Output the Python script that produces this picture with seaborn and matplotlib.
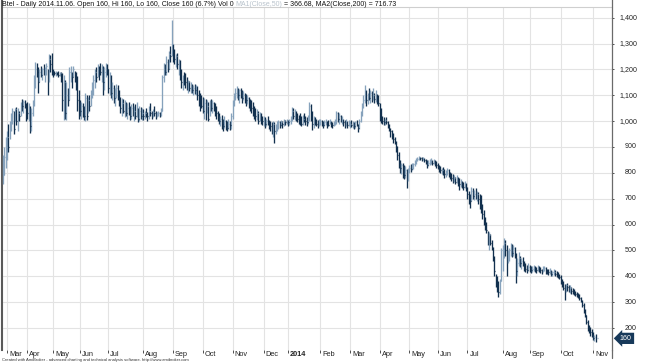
import numpy as np
import matplotlib
matplotlib.use('Agg')
import matplotlib.pyplot as plt
from matplotlib.lines import Line2D
import seaborn as sns

# month labels (first entry = the few bars of late Feb 2013, no label)
month_labels = ['', 'Mar', 'Apr', 'May', 'Jun', 'Jul', 'Aug', 'Sep', 'Oct', 'Nov', 'Dec',
                '2014', 'Feb', 'Mar', 'Apr', 'May', 'Jun', 'Jul', 'Aug', 'Sep', 'Oct', 'Nov']
bars_per_month = [3, 15, 19, 20, 21, 26, 22, 22, 22, 23, 18,
                  24, 22, 22, 22, 21, 22, 26, 20, 23, 24, 4]

high = [
    870, 900, 940,
    960, 990, 1000, 1030, 1050, 1040, 1050, 1055, 1050, 1040, 1075, 1085, 1080, 1080, 1070,
    1075, 1070, 1060, 1050, 1080, 1180, 1230, 1225, 1210, 1200, 1215, 1205, 1220, 1210, 1225, 1200, 1260, 1255, 1265,
    1200, 1195, 1195, 1190, 1195, 1190, 1190, 1185, 1180, 1160, 1150, 1130, 1210, 1215, 1190, 1215, 1195, 1190, 1175, 1120,
    1080, 1075, 1070, 1060, 1110, 1100, 1095, 1100, 1120, 1150, 1180, 1200, 1210, 1220, 1215, 1225, 1220, 1215, 1210, 1225, 1220,
    1200, 1190, 1180, 1150, 1140, 1130, 1145, 1140, 1120, 1095, 1090, 1085, 1080, 1075, 1070, 1075, 1060, 1065, 1070, 1060, 1065, 1075, 1050, 1060, 1055, 1050,
    1045, 1040, 1050, 1035, 1060, 1070, 1040, 1045, 1060, 1040, 1035, 1040, 1035, 1050, 1180, 1225, 1220, 1250, 1240, 1270, 1290, 1390,
    1300, 1280, 1260, 1265, 1240, 1235, 1200, 1180, 1190, 1185, 1170, 1160, 1155, 1150, 1145, 1140, 1145, 1140, 1135, 1120, 1110, 1100,
    1095, 1090, 1085, 1080, 1075, 1080, 1085, 1080, 1075, 1070, 1060, 1040, 1030, 1020, 1025, 1010, 1020, 1005, 1000, 1010, 1000, 1030,
    1080, 1110, 1130, 1135, 1130, 1125, 1130, 1120, 1115, 1110, 1105, 1100, 1095, 1085, 1080, 1075, 1060, 1050, 1045, 1040, 1035, 1030, 1020,
    1020, 1015, 1010, 1020, 1005, 1000, 995, 1000, 995, 990, 1000, 1005, 1000, 1005, 1000, 1010, 1005, 1010,
    1005, 1010, 1020, 1055, 1050, 1045, 1040, 1030, 1025, 1030, 1020, 1025, 1030, 1020, 1015, 1025, 1075, 1065, 1040, 1020, 1015, 1010, 1005, 1010,
    1010, 1005, 1000, 1005, 1010, 1000, 1005, 1010, 1000, 995, 1000, 1010, 1040, 1035, 1030, 1025, 1020, 1010, 1005, 1010, 1000, 1005,
    1000, 1005, 1000, 995, 1000, 1005, 990, 1010, 1040, 1070, 1100, 1140, 1120, 1110, 1130, 1120, 1115, 1130, 1110, 1120, 1105, 1100,
    1070, 1050, 1020, 1015, 1010, 1015, 1000, 990, 975, 965, 955, 940, 925, 905, 880, 850, 840, 838, 830, 825, 815, 820,
    830, 835, 838, 840, 850, 858, 862, 865, 862, 860, 862, 858, 855, 850, 848, 852, 856, 850, 855, 850, 845,
    840, 830, 825, 820, 822, 815, 810, 818, 815, 805, 800, 795, 790, 785, 790, 785, 780, 775, 770, 765, 770, 760,
    745, 730, 720, 745, 740, 735, 740, 730, 725, 720, 715, 680, 656, 630, 610, 575, 570, 565, 540, 514, 480, 410, 400, 380, 390, 510,
    520, 547, 540, 520, 500, 510, 528, 525, 520, 515, 490, 470, 494, 480, 470, 475, 460, 450, 445, 450,
    445, 440, 438, 442, 440, 435, 443, 440, 436, 430, 438, 440, 435, 430, 428, 432, 425, 420, 428, 425, 420, 415, 410,
    404, 390, 380, 370, 372, 373, 368, 365, 360, 355, 350, 345, 340, 335, 330, 320, 308, 295, 275, 250, 230, 210, 204, 195,
    185, 172, 175, 160,
]

low = [
    755, 790, 820,
    850, 880, 930, 960, 990, 950, 1000, 985, 960, 1000, 1020, 1040, 1030, 1050, 1000,
    1010, 1000, 955, 960, 1020, 1060, 1130, 1170, 1110, 1150, 1170, 1160, 1180, 1150, 1180, 1100, 1150, 1190, 1180,
    1170, 1180, 1175, 1180, 1170, 1175, 1150, 1040, 1003, 1010, 1005, 1060, 1080, 1150, 1130, 1170, 1150, 1120, 1040, 1010,
    1020, 1010, 1015, 1005, 1000, 1005, 1030, 1040, 1060, 1090, 1100, 1130, 1150, 1170, 1160, 1180, 1150, 1100, 1120, 1170, 1180,
    1110, 1100, 1090, 1080, 1070, 1060, 1090, 1080, 1060, 1030, 1020, 1030, 1015, 1020, 1010, 1025, 1005, 1010, 1020, 1000, 1010, 1015, 995, 1000, 1010, 1005,
    1005, 1010, 1015, 1000, 1010, 1020, 1010, 1015, 1020, 1010, 1015, 1020, 1015, 1020, 1040, 1150, 1180, 1180, 1190, 1200, 1230, 1250,
    1230, 1220, 1210, 1200, 1180, 1160, 1130, 1120, 1140, 1130, 1120, 1110, 1115, 1110, 1110, 1100, 1105, 1100, 1080, 1060, 1040, 1050,
    1030, 1010, 1005, 1030, 1000, 1020, 1040, 1030, 1040, 1020, 1010, 1000, 990, 980, 970, 960, 975, 965, 960, 970, 965, 970,
    1010, 1060, 1080, 1090, 1080, 1070, 1090, 1070, 1080, 1070, 1060, 1065, 1050, 1040, 1030, 1020, 1010, 1000, 1005, 990, 1000, 990, 985,
    980, 975, 980, 985, 970, 960, 950, 940, 915, 950, 960, 970, 975, 980, 975, 980, 985, 990,
    980, 985, 990, 1000, 1010, 1005, 1000, 995, 990, 985, 980, 985, 995, 985, 980, 990, 1000, 1000, 966, 975, 985, 980, 975, 980,
    985, 980, 975, 980, 985, 975, 980, 990, 978, 975, 980, 985, 990, 995, 990, 995, 990, 980, 975, 980, 975, 980,
    975, 978, 972, 970, 975, 980, 958, 970, 995, 1020, 1050, 1070, 1060, 1065, 1080, 1070, 1075, 1080, 1070, 1075, 1065, 1060,
    1000, 993, 990, 985, 985, 990, 975, 960, 940, 930, 915, 910, 880, 850, 820, 800, 795, 780, 775, 780, 741, 770,
    800, 805, 810, 815, 825, 835, 845, 848, 850, 845, 848, 842, 835, 820, 825, 830, 835, 830, 835, 825, 820,
    815, 805, 800, 795, 790, 780, 785, 790, 785, 775, 770, 760, 765, 755, 760, 750, 734, 745, 740, 735, 740, 730,
    700, 680, 664, 690, 700, 695, 700, 690, 680, 660, 643, 620, 600, 580, 568, 520, 500, 520, 500, 460, 400, 360, 340, 320, 330, 380,
    420, 470, 480, 400, 450, 460, 480, 475, 480, 470, 375, 400, 440, 437, 430, 440, 420, 415, 412, 420,
    415, 412, 418, 420, 415, 412, 420, 418, 414, 410, 415, 420, 410, 408, 405, 410, 400, 402, 405, 400, 398, 395, 390,
    370, 360, 346, 308, 340, 345, 340, 335, 330, 332, 327, 325, 320, 315, 308, 300, 280, 260, 242, 215, 190, 180, 170, 165,
    153, 150, 146, 160,
]

close = [
    790, 860, 900,
    940, 900, 990, 1000, 1040, 970, 1045, 1000, 1030, 1020, 1070, 1060, 1075, 1060, 1040,
    1030, 1060, 980, 1030, 1070, 1170, 1200, 1190, 1150, 1190, 1180, 1200, 1190, 1200, 1215, 1150, 1240, 1220, 1200,
    1190, 1185, 1190, 1185, 1180, 1185, 1170, 1080, 1150, 1030, 1100, 1080, 1190, 1200, 1170, 1200, 1180, 1140, 1080, 1060,
    1040, 1060, 1030, 1020, 1090, 1020, 1080, 1060, 1110, 1140, 1160, 1190, 1170, 1210, 1200, 1190, 1200, 1150, 1190, 1210, 1200,
    1130, 1170, 1110, 1130, 1090, 1110, 1130, 1100, 1080, 1050, 1070, 1040, 1060, 1030, 1050, 1040, 1020, 1050, 1030, 1040, 1020, 1060, 1010, 1040, 1020, 1030,
    1020, 1030, 1025, 1020, 1040, 1030, 1025, 1035, 1030, 1020, 1025, 1030, 1025, 1040, 1170, 1200, 1190, 1230, 1200, 1260, 1250, 1300,
    1270, 1240, 1250, 1220, 1230, 1180, 1150, 1170, 1160, 1150, 1140, 1150, 1130, 1140, 1120, 1130, 1120, 1135, 1100, 1080, 1070, 1060,
    1040, 1070, 1020, 1060, 1010, 1065, 1050, 1070, 1050, 1040, 1030, 1010, 1000, 1010, 990, 980, 1000, 980, 975, 990, 985, 1020,
    1070, 1100, 1110, 1120, 1100, 1120, 1110, 1090, 1100, 1090, 1080, 1090, 1070, 1060, 1050, 1040, 1030, 1020, 1030, 1000, 1020, 1010, 1000,
    1000, 990, 1000, 995, 985, 980, 970, 990, 960, 980, 990, 995, 985, 995, 990, 1000, 995, 1000,
    995, 1000, 1010, 1040, 1020, 1030, 1015, 1010, 1005, 1000, 990, 1010, 1005, 1000, 995, 1010, 1060, 1020, 990, 1000, 995, 990, 985, 1000,
    1000, 990, 985, 995, 1000, 990, 985, 1000, 990, 985, 990, 1000, 1030, 1010, 1020, 1000, 1010, 995, 990, 1000, 985, 990,
    990, 985, 990, 980, 995, 985, 975, 1000, 1030, 1060, 1080, 1120, 1080, 1100, 1090, 1110, 1090, 1100, 1085, 1095, 1080, 1070,
    1020, 1010, 1000, 995, 1005, 995, 985, 970, 960, 945, 930, 920, 900, 870, 840, 820, 830, 800, 790, 810, 770, 810,
    820, 815, 830, 835, 845, 850, 855, 860, 858, 852, 858, 850, 845, 830, 840, 845, 850, 840, 845, 835, 830,
    825, 815, 810, 810, 800, 795, 800, 810, 795, 790, 780, 775, 780, 765, 780, 760, 755, 765, 750, 745, 760, 740,
    720, 700, 690, 730, 710, 720, 715, 720, 700, 690, 660, 640, 620, 600, 580, 545, 560, 530, 510, 470, 420, 380, 350, 340, 380, 500,
    500, 530, 500, 480, 490, 500, 515, 490, 510, 480, 420, 450, 470, 450, 460, 445, 440, 430, 425, 435,
    430, 425, 430, 435, 428, 425, 438, 430, 425, 420, 430, 432, 420, 418, 415, 425, 410, 415, 418, 410, 405, 400, 398,
    380, 370, 355, 340, 365, 360, 350, 355, 345, 340, 335, 330, 328, 320, 315, 305, 290, 270, 250, 225, 200, 190, 185, 175,
    160, 165, 150, 160,
]

price_ticks = list(range(200, 1401, 100))
last_price = 160

title_main = "Btel - Daily 2014.11.06. Open 160, Hi 160, Lo 160, Close 160 (6.7%) Vol 0 "
title_ma1 = "MA1(Close,50)"
title_rest = " = 366.68, MA2(Close,200) = 716.73"
footer = "Created with AmiBroker - advanced charting and technical analysis software. http://www.amibroker.com"

sns.set_theme(style='white')
plt.rcParams['font.family'] = ['Liberation Sans', 'DejaVu Sans']

W, H = 645, 364
fig = plt.figure(figsize=(W / 100, H / 100), dpi=100)
ax = fig.add_axes([2 / W, 1 - 350 / H, 610 / W, 350 / H])

n = len(close)
x = np.arange(n)
x0, x1 = -0.74, 451.1
y0, y1 = 115, 1468.4
ax.set_xlim(x0, x1)
ax.set_ylim(y0, y1)

starts = np.cumsum([0] + bars_per_month[:-1])
month_pos = starts[1:]
month_names = month_labels[1:]

# grid
grid_c = '#e3e3e3'
ax.hlines(price_ticks, x0, x1, color=grid_c, lw=0.8, zorder=0)
ax.vlines(month_pos, y0, 1441, color=grid_c, lw=0.8, zorder=0)
ax.hlines(1441, x0, x1, color='#cfcfcf', lw=0.8, zorder=0)

# bars: dark for down closes, light for up closes
prev = np.r_[close[0], close[:-1]]
colors = np.where(np.array(close) < prev, '#12304e', '#86a2bc')
ax.vlines(x, low, high, colors=colors, lw=0.95, zorder=3)
ax.hlines(close, x, x + 0.6, colors=colors, lw=0.9, zorder=3)

# spines
for s in ['top', 'bottom']:
    ax.spines[s].set_visible(False)
ax.spines['left'].set_color('#5a5a5a')
ax.spines['left'].set_linewidth(1.5)
ax.spines['right'].set_color('#6a6a6a')
ax.spines['right'].set_linewidth(0.9)
fig.add_artist(Line2D([612 / W, 612 / W], [1 - 358 / H, 1 - 350 / H],
                      color='#6a6a6a', lw=0.9, transform=fig.transFigure))

ax.set_xticks(month_pos, labels=[''] * len(month_pos))
ax.yaxis.tick_right()
ax.set_yticks(price_ticks, labels=[''] * len(price_ticks))
ax.tick_params(axis='x', direction='out', length=2.0, width=0.6, color='#333333', bottom=True)
ax.tick_params(axis='y', direction='out', length=1.5, width=0.6, color='#333333', right=True, left=False)

for pos, lab in zip(month_pos, month_names):
    ax.annotate(lab, xy=(pos, 0), xycoords=('data', 'axes fraction'),
                xytext=(2, -1.5), textcoords='offset pixels', ha='left', va='top',
                fontsize=5.3, color='#222222',
                fontweight='bold' if lab == '2014' else 'normal')

for v in price_ticks:
    ax.annotate(f'{v:,}', xy=(1, v), xycoords=('axes fraction', 'data'),
                xytext=(25, 0), textcoords='offset pixels', ha='right', va='center',
                fontsize=5.1, color='#222222')

ax.annotate(str(last_price), xy=(1, last_price), xycoords=('axes fraction', 'data'),
            xytext=(14, 0), textcoords='offset pixels', ha='center', va='center',
            fontsize=5.1, color='white',
            bbox=dict(boxstyle='larrow,pad=0.3', fc='#17395a', ec='none'))

# title in three colours
fig.canvas.draw()
r = fig.canvas.get_renderer()
tx = 2 / W
for txt, col in [(title_main, '#111111'), (title_ma1, '#b9c3cc'), (title_rest, '#111111')]:
    t = fig.text(tx, 1 - 4 / H, txt, fontsize=5.0, color=col, ha='left', va='center')
    bb = t.get_window_extent(renderer=r)
    tx = bb.x1 / W

fig.text(2 / W, 1 - 360 / H, footer, fontsize=3.0, color='#333333', ha='left', va='center')

fig.savefig('out.png', dpi=100)
